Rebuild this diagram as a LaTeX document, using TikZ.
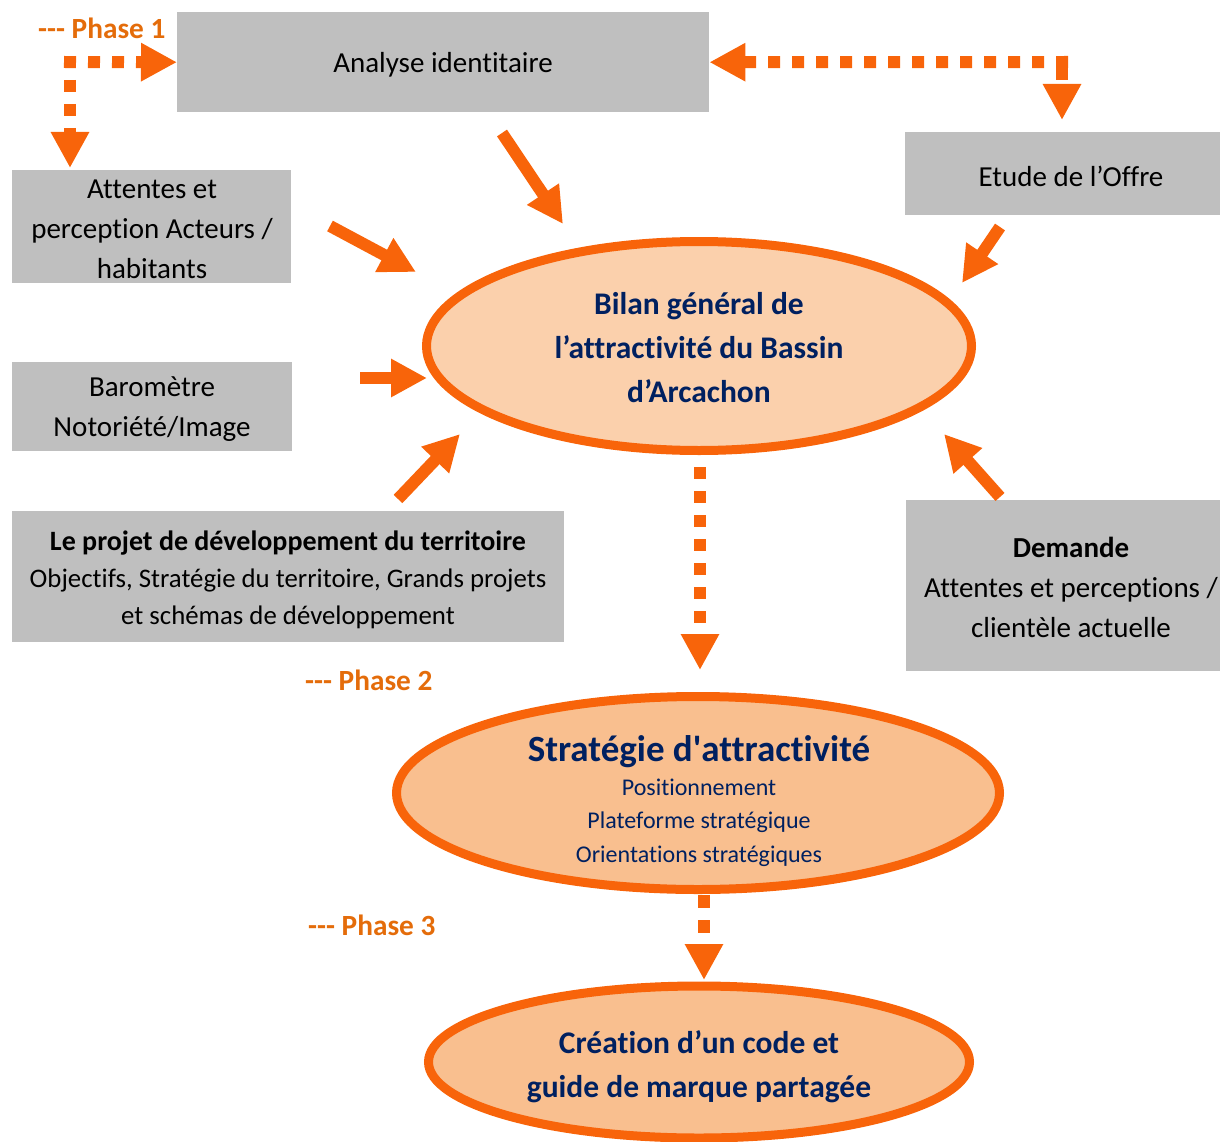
\documentclass[tikz,border=0pt]{standalone}
\usepackage{fontspec}
\setmainfont[Ligatures={NoCommon}]{Carlito}
\usetikzlibrary{arrows.meta,shapes.geometric}
\definecolor{orng}{RGB}{248,100,10}
\definecolor{phasec}{RGB}{228,108,10}
\definecolor{navy}{RGB}{0,32,96}
\definecolor{boxg}{RGB}{191,191,191}
\definecolor{peachA}{RGB}{251,208,172}
\definecolor{peachB}{RGB}{249,191,143}
\tikzset{
  graybox/.style={fill=boxg, draw=none, inner sep=0pt, anchor=north west},
  boxtext/.style={align=center, font=\fontsize{29}{40}\selectfont, text=black},
  oval/.style={ellipse, draw=orng, line width=9pt, inner sep=0pt},
  ovaltext/.style={align=center, text=navy, font=\bfseries\fontsize{31.5}{44}\selectfont},
  phaselbl/.style={text=phasec, font=\bfseries\fontsize{29.3}{32}\selectfont, inner sep=0pt},
  dotarrow/.style={draw=orng, line width=12pt, dash pattern=on 12pt off 12pt,
     -{Triangle[length=36pt,width=36pt]}},
  solidarrow/.style={draw=orng, line width=12pt, -{Triangle[length=36pt,width=36pt]}},
}
\begin{document}
\begin{tikzpicture}[x=1pt,y=-1pt]
\useasboundingbox (0,0) rectangle (1220,1142);
% boxes
\node[graybox, minimum width=532pt, minimum height=100pt] (analyse) at (177,12) {};
\node[boxtext] (analyseT) at (443,65) {Analyse identitaire};
\node[graybox, minimum width=315pt, minimum height=83pt] (offre) at (905,132) {};
\node[boxtext] (offreT) at (1071,176) {Etude de l’Offre};
\node[graybox, minimum width=279pt, minimum height=113pt] (attentes) at (12,170) {};
\node[boxtext] (attentesT) at (152,229) {Attentes et\\perception Acteurs /\\habitants};
\node[graybox, minimum width=280pt, minimum height=89pt] (barometre) at (12,362) {};
\node[boxtext] (barometreT) at (152,409) {Baromètre\\Notoriété/Image};
\node[graybox, minimum width=552pt, minimum height=131pt] (projet) at (12,511) {};
\node[align=center, text=black, font=\fontsize{26.8}{37}\selectfont] (projetT) at (288,580)
  {\textbf{\fontsize{28}{37}\selectfont Le projet de développement du territoire}\\Objectifs, Stratégie du territoire, Grands projets\\et schémas de développement};
\node[graybox, minimum width=314pt, minimum height=171pt] (demande) at (906,500) {};
\node[boxtext] (demandeT) at (1071,587) {\textbf{Demande}\\Attentes et perceptions /\\clientèle actuelle};
% ovals
\node[oval, fill=peachA, minimum width=545pt, minimum height=209pt] (bilan) at (699,346) {};
\node[ovaltext] (bilanT) at (699,348) {Bilan général de\\l’attractivité du Bassin\\d’Arcachon};
\node[oval, fill=peachB, minimum width=603pt, minimum height=193pt] (strat) at (698,793) {};
\node[align=center, text=navy, font=\fontsize{24}{33.5}\selectfont] (stratT) at (699,801)
  {\textbf{\fontsize{37}{44}\selectfont Stratégie d\textquotesingle attractivité}\\
   Positionnement\\Plateforme stratégique\\Orientations stratégiques};
\node[oval, fill=peachB, minimum width=541pt, minimum height=152pt] (code) at (699,1062) {};
\node[ovaltext] (codeT) at (699,1067) {Création d’un code et\\guide de marque partagée};
% phase labels
\node[phaselbl, anchor=west] (ph1) at (38,28) {-{}-{}- Phase 1};
\node[phaselbl, anchor=west] (ph2) at (305,680) {-{}-{}- Phase 2};
\node[phaselbl, anchor=west] (ph3) at (308,925) {-{}-{}- Phase 3};
% dotted arrows
\coordinate (c1) at (64,62);
\draw[dotarrow] (c1) -- (analyse.west);
\coordinate (c1v) at (70,56);
\coordinate (t1v) at (70,168);
\draw[dotarrow] (c1v) -- (t1v);
\coordinate (c2) at (1068,62);
\draw[dotarrow] (c2) -- (analyse.east);
\coordinate (c2v) at (1062,68);
\coordinate (t2v) at (1062,120);
\draw[dotarrow] (c2v) -- (t2v);
\coordinate (b1) at (700,467);
\coordinate (b1t) at (700,670);
\draw[dotarrow] (b1) -- (b1t);
\coordinate (b2) at (704,895);
\coordinate (b2t) at (704,980);
\draw[dotarrow, dash pattern=on 13pt off 12pt] (b2) -- (b2t);
% solid arrows
\coordinate (s1a) at (502,133); \coordinate (s1b) at (563,224);
\draw[solidarrow] (s1a) -- (s1b);
\coordinate (s2a) at (330,226); \coordinate (s2b) at (416,272);
\draw[solidarrow] (s2a) -- (s2b);
\coordinate (s3a) at (360,378); \coordinate (s3b) at (427,378);
\draw[solidarrow] (s3a) -- (s3b);
\coordinate (s4a) at (398,499); \coordinate (s4b) at (460,434);
\draw[solidarrow] (s4a) -- (s4b);
\coordinate (s5a) at (1000,227); \coordinate (s5b) at (962,283);
\draw[solidarrow] (s5a) -- (s5b);
\coordinate (s6a) at (1000,497); \coordinate (s6b) at (944,434);
\draw[solidarrow] (s6a) -- (s6b);
\end{tikzpicture}
\end{document}
